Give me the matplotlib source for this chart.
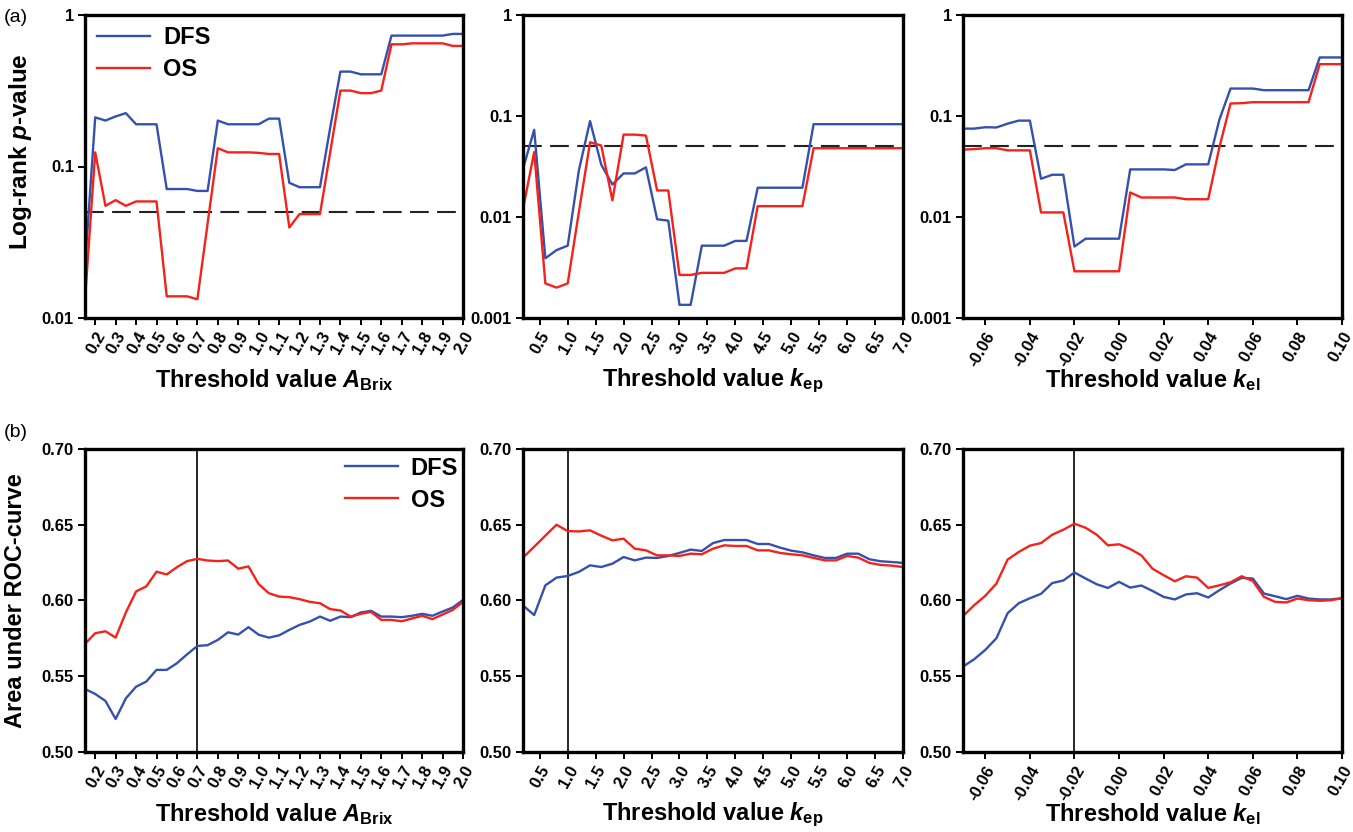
import numpy as np
import matplotlib
matplotlib.use("Agg")
import matplotlib.pyplot as plt
from matplotlib.ticker import FixedLocator, NullLocator

plt.rcParams['font.family'] = ['Liberation Sans', 'DejaVu Sans']
plt.rcParams['font.weight'] = 'bold'
plt.rcParams['mathtext.fontset'] = 'custom'
plt.rcParams['mathtext.rm'] = 'Liberation Sans:bold'
plt.rcParams['mathtext.it'] = 'Liberation Sans:italic:bold'
plt.rcParams['mathtext.bf'] = 'Liberation Sans:bold'

# ---------------- data ----------------
abrix_x = [0.15, 0.20, 0.25, 0.30, 0.35, 0.40, 0.45, 0.50, 0.55, 0.60, 0.65, 0.70, 0.75,
           0.80, 0.85, 0.90, 0.95, 1.00, 1.05, 1.10, 1.15, 1.20, 1.25, 1.30, 1.35, 1.40,
           1.45, 1.50, 1.55, 1.60, 1.65, 1.70, 1.75, 1.80, 1.85, 1.90, 1.95, 2.00]
kep_x = [0.2, 0.4, 0.6, 0.8, 1.0, 1.2, 1.4, 1.6, 1.8, 2.0, 2.2, 2.4, 2.6, 2.8, 3.0, 3.2, 3.4,
         3.6, 3.8, 4.0, 4.2, 4.4, 4.6, 4.8, 5.0, 5.2, 5.4, 5.6, 5.8, 6.0, 6.2, 6.4, 6.6, 6.8, 7.0]
kel_x = [-0.070, -0.065, -0.060, -0.055, -0.050, -0.045, -0.040, -0.035, -0.030, -0.025,
         -0.020, -0.015, -0.010, -0.005, 0.000, 0.005, 0.010, 0.015, 0.020, 0.025, 0.030,
         0.035, 0.040, 0.045, 0.050, 0.055, 0.060, 0.065, 0.070, 0.075, 0.080, 0.085,
         0.090, 0.095, 0.100]

# (a) log-rank p-values
p_abrix_dfs = [0.022, 0.211, 0.201, 0.214, 0.225, 0.190, 0.190, 0.190, 0.071, 0.071, 0.071,
               0.069, 0.069, 0.201, 0.190, 0.190, 0.190, 0.190, 0.207, 0.207, 0.078, 0.073,
               0.073, 0.073, 0.18, 0.423, 0.423, 0.406, 0.406, 0.406, 0.731, 0.731, 0.731,
               0.731, 0.731, 0.731, 0.75, 0.75]
p_abrix_os = [0.0132, 0.124, 0.055, 0.060, 0.055, 0.0588, 0.0588, 0.0588, 0.0139, 0.0139,
              0.0139, 0.0133, 0.042, 0.132, 0.124, 0.124, 0.124, 0.123, 0.121, 0.121, 0.0396,
              0.0485, 0.0485, 0.0485, 0.124, 0.317, 0.317, 0.305, 0.305, 0.317, 0.641, 0.64,
              0.65, 0.65, 0.65, 0.65, 0.625, 0.625]
p_kep_dfs = [0.030, 0.073, 0.0039, 0.0047, 0.0052, 0.029, 0.089, 0.033, 0.021, 0.027, 0.027,
             0.031, 0.0095, 0.0092, 0.00135, 0.00135, 0.0052, 0.0052, 0.0052, 0.0058, 0.0058,
             0.0195, 0.0195, 0.0195, 0.0195, 0.0195, 0.083, 0.083, 0.083, 0.083, 0.083,
             0.083, 0.083, 0.083, 0.083]
p_kep_os = [0.012, 0.044, 0.0022, 0.0020, 0.0022, 0.0112, 0.055, 0.051, 0.0146, 0.0654,
            0.0654, 0.064, 0.0183, 0.0183, 0.00267, 0.00267, 0.0028, 0.0028, 0.0028, 0.0031,
            0.0031, 0.0128, 0.0128, 0.0128, 0.0128, 0.0128, 0.048, 0.048, 0.048, 0.048,
            0.048, 0.048, 0.048, 0.048, 0.048]
p_kel_dfs = [0.075, 0.075, 0.0774, 0.077, 0.084, 0.090, 0.090, 0.0239, 0.0262, 0.0262,
             0.0051, 0.0061, 0.0061, 0.0061, 0.0061, 0.0296, 0.0296, 0.0296, 0.0296, 0.0292,
             0.0332, 0.0332, 0.0332, 0.092, 0.187, 0.187, 0.187, 0.180, 0.180, 0.180, 0.180,
             0.180, 0.38, 0.38, 0.38]
p_kel_os = [0.0465, 0.047, 0.048, 0.048, 0.0457, 0.0457, 0.0457, 0.0111, 0.0111, 0.0111,
            0.0029, 0.0029, 0.0029, 0.0029, 0.0029, 0.0175, 0.0156, 0.0156, 0.0156, 0.0156,
            0.015, 0.015, 0.015, 0.049, 0.133, 0.134, 0.137, 0.137, 0.137, 0.137, 0.137,
            0.137, 0.326, 0.326, 0.326]
p_threshold = 0.05

# (b) area under ROC curve
auc_abrix_dfs = [0.5416, 0.5383, 0.5337, 0.5218, 0.5354, 0.5431, 0.5465, 0.5542, 0.5542,
                 0.5586, 0.5645, 0.5700, 0.5705, 0.5740, 0.5790, 0.5775, 0.5824, 0.5774,
                 0.5755, 0.5770, 0.5806, 0.5839, 0.5861, 0.5894, 0.5866, 0.5894, 0.5890,
                 0.5921, 0.5932, 0.5894, 0.5894, 0.5890, 0.5899, 0.5912, 0.5899, 0.5927,
                 0.5954, 0.6004]
auc_abrix_os = [0.5714, 0.5784, 0.5797, 0.5755, 0.5921, 0.6060, 0.6093, 0.6190, 0.6172,
                0.6220, 0.6260, 0.6275, 0.6264, 0.6260, 0.6264, 0.6210, 0.6225, 0.6108,
                0.6048, 0.6026, 0.6022, 0.6009, 0.5991, 0.5982, 0.5943, 0.5934, 0.5894,
                0.5912, 0.5925, 0.5872, 0.5872, 0.5863, 0.5881, 0.5899, 0.5877, 0.5907,
                0.5938, 0.5991]
auc_kep_dfs = [0.5967, 0.5904, 0.6100, 0.6151, 0.6162, 0.6189, 0.6232, 0.6221, 0.6243,
               0.6287, 0.6265, 0.6283, 0.6281, 0.6294, 0.6314, 0.6336, 0.6327, 0.6379,
               0.6399, 0.6399, 0.6399, 0.6373, 0.6373, 0.6349, 0.6329, 0.6318, 0.6298,
               0.6281, 0.6281, 0.6309, 0.6309, 0.6272, 0.6259, 0.6254, 0.6248]
auc_kep_os = [0.6283, 0.6355, 0.6428, 0.6500, 0.6458, 0.6456, 0.6463, 0.6428, 0.6397,
              0.6408, 0.6342, 0.6331, 0.6298, 0.6298, 0.6294, 0.6309, 0.6305, 0.6342,
              0.6364, 0.6360, 0.6360, 0.6331, 0.6331, 0.6314, 0.6305, 0.6298, 0.6281,
              0.6265, 0.6265, 0.6294, 0.6283, 0.6248, 0.6235, 0.6230, 0.6221]
auc_kel_dfs = [0.5564, 0.5612, 0.5674, 0.5751, 0.5916, 0.5982, 0.6015, 0.6044, 0.6115,
               0.6132, 0.6185, 0.6145, 0.6107, 0.6083, 0.6123, 0.6085, 0.6099, 0.6063,
               0.6024, 0.6007, 0.6040, 0.6048, 0.6020, 0.6068, 0.6112, 0.6149, 0.6145,
               0.6046, 0.6028, 0.6009, 0.6031, 0.6013, 0.6007, 0.6007, 0.6015]
auc_kel_os = [0.5897, 0.5969, 0.6031, 0.6112, 0.6270, 0.6320, 0.6362, 0.6379, 0.6434,
              0.6467, 0.6507, 0.6480, 0.6434, 0.6364, 0.6371, 0.6340, 0.6298, 0.6210,
              0.6167, 0.6127, 0.6160, 0.6151, 0.6083, 0.6100, 0.6120, 0.6160, 0.6129,
              0.6024, 0.5991, 0.5987, 0.6013, 0.6002, 0.5998, 0.6002, 0.6015]
optimal_abrix = 0.7
optimal_kep = 1.0
optimal_kel = -0.02

abrix_ticks = [0.2, 0.3, 0.4, 0.5, 0.6, 0.7, 0.8, 0.9, 1.0, 1.1, 1.2, 1.3, 1.4, 1.5, 1.6,
               1.7, 1.8, 1.9, 2.0]
abrix_ticklabels = ['0.2', '0.3', '0.4', '0.5', '0.6', '0.7', '0.8', '0.9', '1.0', '1.1',
                    '1.2', '1.3', '1.4', '1.5', '1.6', '1.7', '1.8', '1.9', '2.0']
kep_ticks = [0.5, 1.0, 1.5, 2.0, 2.5, 3.0, 3.5, 4.0, 4.5, 5.0, 5.5, 6.0, 6.5, 7.0]
kep_ticklabels = ['0.5', '1.0', '1.5', '2.0', '2.5', '3.0', '3.5', '4.0', '4.5', '5.0',
                  '5.5', '6.0', '6.5', '7.0']
kel_ticks = [-0.06, -0.04, -0.02, 0.0, 0.02, 0.04, 0.06, 0.08, 0.10]
kel_ticklabels = ['-0.06', '-0.04', '-0.02', '0.00', '0.02', '0.04', '0.06', '0.08', '0.10']

series_labels = ['DFS', 'OS']
blue = '#3550ad'
red = '#f5221b'

# ---------------- figure ----------------
fig = plt.figure(figsize=(13.53, 8.32), dpi=100)
W, H = 1353, 832
cols = [(85, 463), (523, 903), (963, 1342)]
rows = [(15, 318), (449, 752)]


def make_ax(r, c):
    x0, x1 = cols[c]
    y0, y1 = rows[r]
    return fig.add_axes([x0 / W, 1 - y1 / H, (x1 - x0) / W, (y1 - y0) / H])


def style(ax, ticks, labels):
    for s in ax.spines.values():
        s.set_linewidth(2.4)
    ax.set_xticks(ticks)
    ax.set_xticklabels(labels, rotation=60, ha='right', rotation_mode='anchor',
                       fontsize=12, fontweight='bold')
    ax.tick_params(axis='both', direction='out', length=5, width=1.4, labelsize=12,
                   pad=3)
    for t in ax.get_yticklabels():
        t.set_fontweight('bold')


xsets = [(abrix_x, abrix_ticks, abrix_ticklabels, (0.15, 2.0),
          r'Threshold value $A_{\mathrm{Brix}}$'),
         (kep_x, kep_ticks, kep_ticklabels, (0.2, 7.0),
          r'Threshold value $k_{\mathrm{ep}}$'),
         (kel_x, kel_ticks, kel_ticklabels, (-0.07, 0.10),
          r'Threshold value $k_{\mathrm{el}}$')]
p_sets = [(p_abrix_dfs, p_abrix_os), (p_kep_dfs, p_kep_os), (p_kel_dfs, p_kel_os)]
auc_sets = [(auc_abrix_dfs, auc_abrix_os), (auc_kep_dfs, auc_kep_os),
            (auc_kel_dfs, auc_kel_os)]
optima = [optimal_abrix, optimal_kep, optimal_kel]

lw = 1.7
leg_kw = dict(frameon=False, handlelength=2.25, handletextpad=0.55, labelspacing=0.38,
              borderaxespad=0.0, borderpad=0.0, prop={'weight': 'bold', 'size': 17})
for c in range(3):
    xs, ticks, tlabels, xlim, xlabel = xsets[c]
    # ---- row (a) ----
    ax = make_ax(0, c)
    ax.plot(xs, p_sets[c][0], color=blue, lw=lw, label=series_labels[0])
    ax.plot(xs, p_sets[c][1], color=red, lw=lw, label=series_labels[1])
    ax.axhline(p_threshold, color='#222222', lw=1.5, dashes=(9, 4), zorder=1)
    ax.set_yscale('log')
    if c == 0:
        ax.set_ylim(0.01, 1)
        yt = [0.01, 0.1, 1]
        ytl = ['0.01', '0.1', '1']
    else:
        ax.set_ylim(0.001, 1)
        yt = [0.001, 0.01, 0.1, 1]
        ytl = ['0.001', '0.01', '0.1', '1']
    ax.yaxis.set_major_locator(FixedLocator(yt))
    ax.yaxis.set_minor_locator(NullLocator())
    ax.set_yticklabels(ytl)
    ax.set_xlim(*xlim)
    style(ax, ticks, tlabels)
    ax.set_xlabel(xlabel, fontsize=17, fontweight='bold')
    ax.xaxis.set_label_coords(0.5, -0.162)
    if c == 0:
        ax.set_ylabel(r'Log-rank $p$-value', fontsize=17.5, fontweight='bold')
        ax.yaxis.set_label_coords(-0.135, 0.548)
        ax.legend(loc='upper left', bbox_to_anchor=(0.032, 0.963), **leg_kw)

    # ---- row (b) ----
    ax = make_ax(1, c)
    ax.plot(xs, auc_sets[c][0], color=blue, lw=lw, label=series_labels[0])
    ax.plot(xs, auc_sets[c][1], color=red, lw=lw, label=series_labels[1])
    ax.axvline(optima[c], color='black', lw=1.2, zorder=1)
    ax.set_ylim(0.50, 0.70)
    ax.set_yticks([0.50, 0.55, 0.60, 0.65, 0.70])
    ax.set_yticklabels(['0.50', '0.55', '0.60', '0.65', '0.70'])
    ax.set_xlim(*xlim)
    style(ax, ticks, tlabels)
    ax.set_xlabel(xlabel, fontsize=17, fontweight='bold')
    ax.xaxis.set_label_coords(0.5, -0.162)
    if c == 0:
        ax.set_ylabel('Area under ROC-curve', fontsize=17, fontweight='bold')
        ax.yaxis.set_label_coords(-0.153, 0.5)
        ax.legend(loc='upper right', bbox_to_anchor=(0.987, 0.975), **leg_kw)

fig.text(4 / W, 1 - 18 / H, '(a)', fontsize=14, fontweight='normal', va='center')
fig.text(4 / W, 1 - 432 / H, '(b)', fontsize=14, fontweight='normal', va='center')

fig.savefig('out.png', dpi=100, facecolor='white')
